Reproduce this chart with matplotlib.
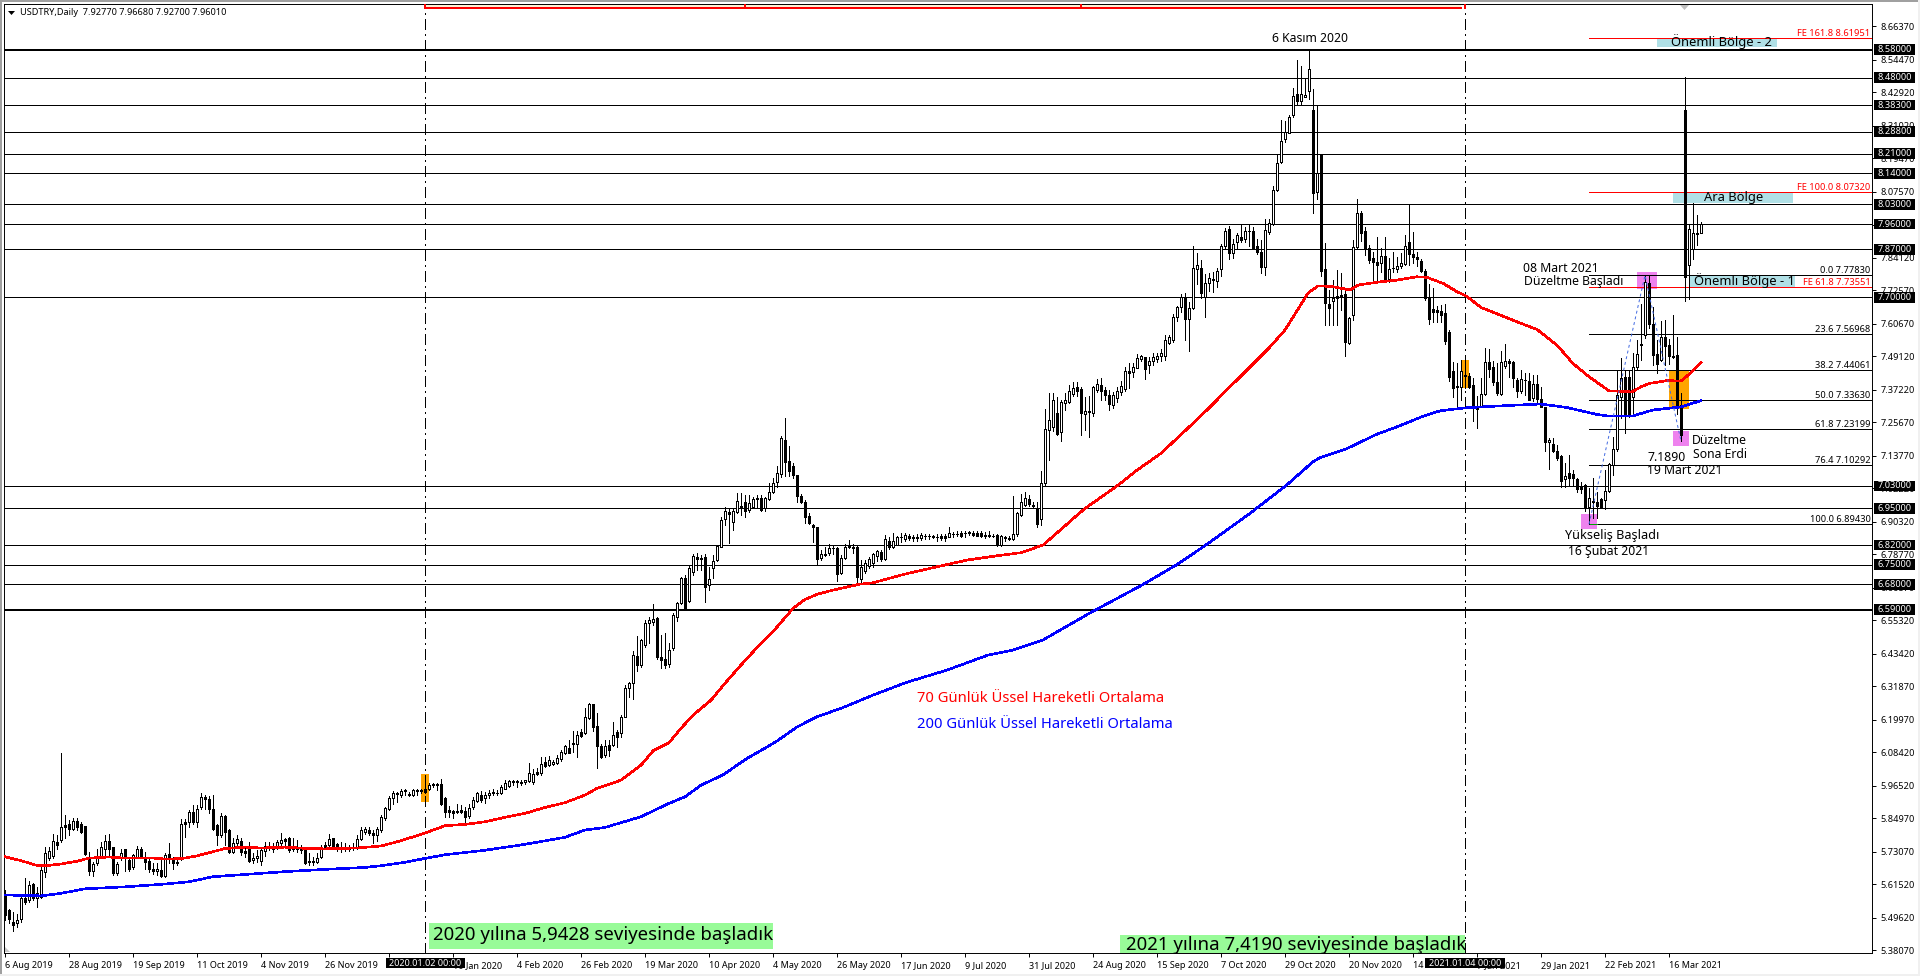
import numpy as np
import matplotlib
matplotlib.use('Agg')
import matplotlib.pyplot as plt
from matplotlib.patches import Rectangle, Polygon
from matplotlib.transforms import blended_transform_factory

# USDTRY daily candles
opens = [
5.577,5.523,5.482,5.476,5.490,5.565,5.561,5.615,5.565,5.571,
5.660,5.710,5.715,5.767,5.772,5.825,5.829,5.813,5.839,5.829,
5.823,5.713,5.663,5.689,5.710,5.742,5.768,5.746,5.654,5.713,
5.742,5.703,5.677,5.713,5.742,5.713,5.699,5.671,5.663,5.665,
5.644,5.721,5.701,5.695,5.707,5.835,5.837,5.873,5.837,5.888,
5.926,5.918,5.884,5.825,5.790,5.857,5.808,5.730,5.762,5.769,
5.734,5.739,5.701,5.710,5.699,5.734,5.752,5.748,5.748,5.760,
5.775,5.781,5.748,5.748,5.746,5.736,5.698,5.695,5.695,5.713,
5.754,5.754,5.780,5.758,5.748,5.745,5.742,5.748,5.746,5.776,
5.802,5.808,5.799,5.790,5.808,5.849,5.882,5.923,5.935,5.932,
5.947,5.935,5.932,5.947,5.947,5.955,5.954,5.966,5.971,5.971,
5.920,5.879,5.875,5.873,5.879,5.876,5.857,5.888,5.912,5.932,
5.920,5.932,5.944,5.938,5.938,5.955,5.964,5.979,5.979,5.979,
5.979,5.982,5.979,6.015,6.009,6.048,6.038,6.044,6.047,6.059,
6.082,6.098,6.113,6.113,6.157,6.154,6.204,6.255,6.177,6.107,
6.074,6.109,6.109,6.157,6.153,6.210,6.314,6.331,6.426,
6.394,6.465,6.544,6.548,6.560,6.423,6.414,6.397,6.453,6.565,
6.613,6.704,6.622,6.725,6.779,6.773,6.776,6.678,6.739,6.767,
6.814,6.911,6.936,6.903,6.938,6.959,6.974,6.944,6.956,6.986,
6.988,6.950,6.983,7.010,7.045,7.072,7.195,7.120,7.101,7.069,
6.995,6.974,6.923,6.890,6.883,6.773,6.790,6.793,6.811,6.811,
6.722,6.773,6.818,6.814,6.812,6.698,6.729,6.745,6.755,6.781,
6.796,6.769,6.834,6.812,6.822,6.847,6.840,6.853,6.847,6.847,
6.845,6.853,6.854,6.852,6.850,6.852,6.854,6.850,6.860,6.860,
6.862,6.862,6.866,6.863,6.862,6.864,6.856,6.854,6.854,6.856,
6.822,6.850,6.845,6.840,6.858,6.927,6.962,6.982,6.961,6.947,
6.911,7.042,7.228,7.240,7.288,7.223,7.326,7.329,7.356,7.380,
7.374,7.285,7.296,7.290,7.371,7.387,7.371,7.353,7.317,7.343,
7.365,7.374,7.438,7.436,7.450,7.481,7.487,7.461,7.474,7.482,
7.492,7.490,7.539,7.548,7.630,7.664,7.700,7.622,7.661,7.799,
7.806,7.702,7.750,7.763,7.759,7.799,7.882,7.941,7.859,7.895,
7.913,7.909,7.934,7.935,7.882,7.862,7.809,7.933,7.960,8.083,
8.182,8.262,8.285,8.347,8.422,8.398,8.413,8.434,8.365,8.075,
8.204,7.799,7.676,7.688,7.705,7.708,7.712,7.539,7.637,7.880,
7.998,7.935,7.877,7.838,7.824,7.823,7.847,7.764,7.803,7.799,
7.811,7.818,7.895,7.853,7.844,7.830,7.794,7.696,7.657,7.655,
7.652,7.643,7.578,7.438,7.385,7.382,7.423,7.420,7.388,7.311,
7.314,7.356,7.469,7.454,7.400,7.356,7.457,7.474,7.469,7.408,
7.368,7.408,7.403,7.343,7.391,7.339,7.309,7.185,7.178,7.154,
7.136,7.056,7.075,7.071,7.054,7.030,7.033,6.956,6.978,6.973,
6.982,6.980,7.013,7.104,7.160,7.347,7.416,7.416,7.345,7.451,
7.536,7.566,7.750,7.604,7.497,7.477,7.558,7.532,7.493,7.494,
7.317,8.365,7.815,7.870,7.924,7.9277]

highs = [
5.594,5.529,5.517,5.511,5.571,5.636,5.625,5.618,5.606,5.677,
5.748,5.748,5.793,5.790,6.080,5.861,5.843,5.852,5.852,5.837,
5.823,5.730,5.695,5.742,5.766,5.790,5.792,5.746,5.695,5.742,
5.742,5.713,5.722,5.751,5.748,5.730,5.713,5.689,5.689,5.701,
5.725,5.760,5.713,5.707,5.847,5.847,5.879,5.896,5.896,5.938,
5.932,5.930,5.932,5.831,5.867,5.861,5.810,5.781,5.790,5.778,
5.748,5.766,5.725,5.736,5.742,5.766,5.766,5.760,5.774,5.796,
5.781,5.784,5.781,5.774,5.754,5.748,5.725,5.713,5.725,5.754,
5.766,5.793,5.781,5.762,5.766,5.762,5.754,5.762,5.790,5.817,
5.819,5.817,5.808,5.819,5.861,5.888,5.928,5.947,5.944,5.955,
5.955,5.944,5.955,5.952,5.955,5.973,5.976,5.976,5.976,5.988,
5.926,5.893,5.879,5.902,5.896,5.890,5.902,5.926,5.944,5.946,
5.944,5.950,5.955,5.950,5.967,5.987,5.987,5.985,5.987,5.987,
5.987,6.047,6.023,6.027,6.066,6.068,6.070,6.058,6.074,6.092,
6.109,6.127,6.160,6.160,6.165,6.240,6.260,6.257,6.222,6.115,
6.127,6.127,6.192,6.163,6.216,6.323,6.334,6.443,6.497,
6.488,6.554,6.565,6.610,6.565,6.500,6.506,6.471,6.577,6.619,
6.708,6.713,6.745,6.790,6.793,6.785,6.790,6.743,6.785,6.820,
6.921,6.956,6.950,6.950,7.004,7.006,6.998,6.998,6.992,6.998,
6.998,6.992,7.039,7.057,7.101,7.207,7.270,7.172,7.110,7.069,
7.000,6.980,6.933,6.895,6.885,6.802,6.814,6.824,6.820,6.814,
6.785,6.824,6.838,6.824,6.817,6.767,6.767,6.779,6.793,6.802,
6.802,6.856,6.847,6.864,6.852,6.864,6.864,6.859,6.856,6.858,
6.864,6.859,6.859,6.857,6.858,6.858,6.859,6.883,6.866,6.870,
6.869,6.871,6.871,6.871,6.869,6.870,6.867,6.871,6.859,6.858,
6.856,6.852,6.852,6.994,6.938,7.001,7.010,6.998,6.974,6.974,
7.084,7.302,7.361,7.359,7.347,7.335,7.359,7.388,7.400,7.400,
7.380,7.347,7.351,7.385,7.409,7.412,7.382,7.371,7.365,7.382,
7.404,7.451,7.465,7.465,7.498,7.495,7.489,7.487,7.501,7.501,
7.515,7.566,7.566,7.641,7.669,7.712,7.716,7.684,7.882,7.856,
7.832,7.783,7.785,7.791,7.803,7.889,7.948,7.953,7.906,7.930,
7.960,7.951,7.959,7.951,7.906,7.903,7.977,7.977,8.095,8.205,
8.330,8.327,8.347,8.442,8.543,8.522,8.474,8.581,8.439,8.383,
8.205,7.892,7.726,7.761,7.797,7.787,7.728,7.630,7.903,8.048,
8.008,7.951,7.886,7.862,7.913,7.874,7.913,7.838,7.862,7.844,
7.856,7.921,8.030,7.931,7.862,7.835,7.799,7.749,7.732,7.669,
7.673,7.676,7.584,7.471,7.465,7.477,7.465,7.430,7.412,7.349,
7.412,7.519,7.515,7.475,7.465,7.510,7.536,7.480,7.474,7.412,
7.442,7.430,7.432,7.424,7.424,7.382,7.311,7.202,7.202,7.175,
7.140,7.112,7.140,7.087,7.057,7.045,7.037,7.021,7.057,7.010,
6.986,7.087,7.112,7.205,7.439,7.483,7.442,7.442,7.501,7.548,
7.678,7.779,7.779,7.667,7.548,7.617,7.619,7.551,7.637,7.560,
7.361,8.481,7.960,8.034,7.992,7.9668]

lows = [
5.488,5.476,5.449,5.464,5.482,5.544,5.553,5.561,5.535,5.565,
5.642,5.701,5.710,5.742,5.766,5.778,5.790,5.807,5.807,5.798,
5.719,5.648,5.644,5.683,5.707,5.707,5.713,5.648,5.648,5.703,
5.663,5.663,5.671,5.707,5.707,5.671,5.659,5.651,5.648,5.640,
5.640,5.689,5.671,5.683,5.701,5.784,5.819,5.831,5.819,5.884,
5.884,5.867,5.808,5.754,5.784,5.754,5.725,5.725,5.754,5.719,
5.713,5.695,5.689,5.695,5.683,5.715,5.736,5.730,5.742,5.751,
5.748,5.730,5.734,5.730,5.725,5.687,5.685,5.683,5.689,5.707,
5.739,5.742,5.748,5.734,5.730,5.734,5.734,5.736,5.742,5.772,
5.793,5.790,5.762,5.770,5.802,5.843,5.879,5.902,5.908,5.926,
5.932,5.928,5.928,5.932,5.938,5.938,5.950,5.962,5.950,5.896,
5.855,5.855,5.852,5.867,5.867,5.837,5.852,5.884,5.908,5.908,
5.904,5.923,5.932,5.934,5.935,5.952,5.962,5.967,5.962,5.967,
5.971,5.979,5.971,6.003,6.003,6.033,6.035,6.038,6.044,6.054,
6.077,6.080,6.086,6.068,6.137,6.148,6.201,6.160,6.029,6.064,
6.066,6.070,6.106,6.104,6.137,6.208,6.281,6.275,6.374,
6.388,6.459,6.471,6.536,6.417,6.382,6.382,6.388,6.447,6.551,
6.610,6.593,6.619,6.713,6.731,6.731,6.619,6.660,6.702,6.764,
6.812,6.891,6.828,6.873,6.935,6.927,6.921,6.938,6.954,6.956,
6.941,6.942,6.980,7.004,7.025,7.063,7.065,7.065,7.060,6.974,
6.970,6.899,6.895,6.832,6.753,6.767,6.781,6.785,6.790,6.693,
6.717,6.769,6.808,6.793,6.684,6.684,6.722,6.737,6.743,6.764,
6.763,6.767,6.805,6.808,6.820,6.832,6.835,6.838,6.835,6.833,
6.838,6.840,6.840,6.844,6.835,6.838,6.835,6.847,6.850,6.852,
6.850,6.850,6.856,6.852,6.852,6.847,6.845,6.850,6.847,6.818,
6.818,6.835,6.838,6.838,6.852,6.924,6.959,6.959,6.954,6.883,
6.891,7.033,7.122,7.226,7.211,7.190,7.300,7.323,7.350,7.349,
7.211,7.228,7.205,7.278,7.365,7.337,7.337,7.300,7.306,7.329,
7.353,7.367,7.377,7.418,7.448,7.475,7.410,7.430,7.459,7.471,
7.474,7.477,7.534,7.542,7.617,7.649,7.548,7.510,7.657,7.747,
7.696,7.631,7.722,7.720,7.738,7.776,7.877,7.837,7.838,7.870,
7.898,7.898,7.882,7.870,7.854,7.787,7.779,7.925,7.957,8.079,
8.178,8.253,8.282,8.339,8.383,8.383,8.410,8.403,7.998,8.051,
7.776,7.601,7.601,7.601,7.601,7.655,7.493,7.535,7.619,7.874,
7.901,7.850,7.821,7.761,7.755,7.791,7.759,7.755,7.791,7.791,
7.805,7.815,7.815,7.821,7.811,7.791,7.690,7.607,7.613,7.613,
7.613,7.535,7.404,7.345,7.306,7.337,7.377,7.377,7.261,7.237,
7.309,7.353,7.418,7.388,7.353,7.353,7.450,7.418,7.382,7.347,
7.361,7.353,7.335,7.333,7.323,7.309,7.154,7.089,7.152,7.122,
7.027,7.027,7.033,7.030,7.010,7.004,6.942,6.894,6.915,6.915,
6.950,6.948,7.010,7.069,7.155,7.270,7.219,7.276,7.285,7.442,
7.477,7.554,7.590,7.459,7.430,7.474,7.459,7.463,7.483,7.285,
7.189,7.688,7.693,7.835,7.886,7.927]

closes = [
5.505,5.493,5.470,5.488,5.565,5.553,5.612,5.565,5.583,5.665,
5.725,5.734,5.770,5.755,5.819,5.819,5.813,5.839,5.819,5.802,
5.722,5.663,5.687,5.713,5.748,5.768,5.742,5.654,5.687,5.725,
5.707,5.671,5.719,5.742,5.713,5.695,5.671,5.663,5.671,5.644,
5.719,5.707,5.691,5.691,5.831,5.829,5.873,5.837,5.882,5.926,
5.918,5.884,5.813,5.790,5.857,5.802,5.730,5.762,5.775,5.730,
5.725,5.699,5.710,5.715,5.736,5.751,5.746,5.742,5.766,5.772,
5.769,5.736,5.742,5.742,5.736,5.689,5.695,5.698,5.710,5.748,
5.742,5.776,5.752,5.739,5.742,5.739,5.748,5.745,5.776,5.808,
5.810,5.799,5.790,5.810,5.855,5.885,5.923,5.941,5.941,5.947,
5.950,5.932,5.950,5.950,5.950,5.943,5.967,5.970,5.967,5.902,
5.873,5.873,5.867,5.875,5.873,5.855,5.885,5.916,5.938,5.916,
5.932,5.940,5.940,5.940,5.959,5.975,5.983,5.981,5.983,5.976,
5.985,6.011,6.006,6.006,6.042,6.036,6.056,6.050,6.062,6.086,
6.106,6.082,6.118,6.145,6.141,6.208,6.255,6.175,6.107,6.068,
6.107,6.092,6.147,6.139,6.210,6.314,6.331,6.429,6.394,
6.483,6.544,6.554,6.556,6.423,6.411,6.394,6.449,6.571,6.613,
6.702,6.595,6.737,6.781,6.770,6.769,6.672,6.698,6.764,6.817,
6.909,6.942,6.930,6.941,6.977,6.956,6.942,6.968,6.982,6.982,
6.944,6.986,7.010,7.042,7.075,7.199,7.116,7.084,7.069,6.994,
6.974,6.921,6.899,6.883,6.771,6.790,6.785,6.808,6.808,6.719,
6.775,6.814,6.814,6.811,6.708,6.741,6.755,6.769,6.788,6.799,
6.769,6.840,6.812,6.835,6.847,6.850,6.856,6.844,6.845,6.845,
6.857,6.851,6.852,6.850,6.847,6.845,6.845,6.862,6.858,6.858,
6.853,6.864,6.863,6.856,6.854,6.853,6.853,6.857,6.852,6.820,
6.852,6.844,6.843,6.858,6.933,6.974,6.989,6.966,6.959,6.895,
7.042,7.231,7.264,7.335,7.213,7.327,7.335,7.366,7.377,7.368,
7.290,7.295,7.294,7.380,7.391,7.368,7.353,7.321,7.353,7.367,
7.385,7.438,7.432,7.452,7.483,7.491,7.446,7.474,7.487,7.491,
7.502,7.547,7.559,7.629,7.665,7.700,7.622,7.661,7.803,7.814,
7.714,7.750,7.767,7.765,7.793,7.882,7.934,7.856,7.888,7.920,
7.905,7.937,7.937,7.874,7.862,7.809,7.939,7.965,8.083,8.176,
8.254,8.288,8.339,8.416,8.398,8.422,8.417,8.510,8.069,8.140,
7.794,7.681,7.661,7.699,7.696,7.705,7.542,7.625,7.880,7.998,
7.927,7.870,7.832,7.826,7.815,7.847,7.764,7.799,7.805,7.811,
7.821,7.883,7.854,7.844,7.836,7.794,7.696,7.622,7.649,7.649,
7.637,7.545,7.418,7.379,7.382,7.438,7.419,7.382,7.309,7.302,
7.356,7.471,7.444,7.398,7.361,7.469,7.475,7.468,7.414,7.368,
7.411,7.406,7.337,7.391,7.340,7.311,7.187,7.195,7.155,7.131,
7.047,7.065,7.059,7.057,7.020,7.018,6.956,6.989,6.972,6.958,
6.956,7.013,7.108,7.163,7.353,7.412,7.282,7.282,7.451,7.498,
7.530,7.755,7.604,7.495,7.463,7.558,7.527,7.493,7.489,7.317,
7.211,7.771,7.941,7.927,7.927,7.9601]

# moving averages, vertices
ema70_bar = [0,4,8,10,14,18,21,26,30,36,40,44,48,52,55,60,64,70,76,80,88,94,98,104,108,110,115,120,125,130,135,140,145,148,154,
             159,162,166,169,172,176.5,180,184,188.6,192.7,197,200,203,207,213.6,217,225,235.5,240.6,248,254,259.5,265,268,270,278,283,289,
             295.4,298,301.3,304.6,311.3,316,320,325.8,328.3,332,336.3,338.3,343.8,347.9,353,355.5,359.6,363,365.4,369,373.8,378,383,388,392,396,401,406.7,409,411,415.4,419,420.8,424]
ema70_val = [5.713,5.699,5.682,5.681,5.687,5.697,5.708,5.712,5.708,5.709,5.705,5.706,5.716,5.731,5.742,5.747,5.744,5.747,5.742,5.741,5.744,5.751,5.766,5.792,5.813,5.823,5.828,5.837,5.853,5.867,5.888,5.905,5.932,5.956,5.985,
             6.038,6.089,6.118,6.169,6.216,6.269,6.329,6.394,6.465,6.524,6.595,6.627,6.645,6.660,6.681,6.686,6.717,6.751,6.767,6.782,6.793,6.820,6.888,6.926,6.950,7.030,7.086,7.146,
             7.231,7.266,7.311,7.359,7.453,7.520,7.584,7.716,7.741,7.738,7.726,7.744,7.755,7.761,7.773,7.771,7.749,7.720,7.704,7.664,7.637,7.613,7.586,7.530,7.465,7.418,7.368,7.364,7.382,7.394,7.404,7.403,7.424,7.468]
ema200_bar = [0,9,14,20,30,40,46,52,60,70,80,90,94,100,105,110,120,130,140,145,150,154,
              159,165.6,170,174,179.4,185.5,192.7,197.8,202.9,209,217,225.3,235.5,245.7,252,259.5,271,284.5,293,300,311,320.4,327,328.8,335.5,343,348,354.6,358.8,365.5,374.6,383.8,390.4,398,401,407,412,416,419,424]
ema200_val = [5.577,5.574,5.583,5.599,5.606,5.616,5.624,5.642,5.650,5.660,5.668,5.675,5.681,5.693,5.707,5.720,5.736,5.757,5.782,5.808,5.817,5.834,
              5.855,5.900,5.926,5.967,6.003,6.062,6.121,6.172,6.210,6.240,6.287,6.332,6.376,6.429,6.447,6.483,6.577,6.680,6.751,6.818,6.930,7.033,7.116,7.131,7.163,7.214,7.240,7.278,7.297,7.308,7.315,7.321,7.309,7.284,7.278,7.279,7.300,7.306,7.311,7.333]

levels = [8.58,8.48,8.383,8.288,8.21,8.14,8.03,7.96,7.87,7.70,7.03,6.95,6.82,6.75,6.68,6.59]
thick_levels = [8.58,6.59]
fe_levels = [8.61951,8.0732,7.73551]
fe_labels = ['FE 161.8 8.61951','FE 100.0 8.07320','FE 61.8 7.73551']
fib_levels = [7.7783,7.56968,7.44061,7.3363,7.23199,7.10292,6.8943]
fib_labels = ['0.0 7.77830','23.6 7.56968','38.2 7.44061','50.0 7.33630','61.8 7.23199','76.4 7.10292','100.0 6.89430']
fib_path_bar = [396,410,419]
fib_path_val = [6.8943,7.7783,7.189]

y_ticks = [8.6637,8.5447,8.4292,8.3102,8.1947,8.0757,7.9567,7.8412,7.7257,7.6067,7.4912,7.3722,7.2567,7.1377,7.0222,6.9032,6.7877,6.6687,6.5532,6.4342,6.3187,6.1997,6.0842,5.9652,5.8497,5.7307,5.6152,5.4962,5.3807]
x_labels = ['6 Aug 2019','28 Aug 2019','19 Sep 2019','11 Oct 2019','4 Nov 2019','26 Nov 2019','18 Dec 2019','10 Jan 2020','4 Feb 2020','26 Feb 2020',
            '19 Mar 2020','10 Apr 2020','4 May 2020','26 May 2020','17 Jun 2020','9 Jul 2020','31 Jul 2020','24 Aug 2020','15 Sep 2020','7 Oct 2020',
            '29 Oct 2020','20 Nov 2020','14 Dec 2020','7 Jan 2021','29 Jan 2021','22 Feb 2021','16 Mar 2021']

W, H = 1920, 976
THIN = 0.7
plt.rcParams['font.family'] = ['Noto Sans', 'DejaVu Sans']

fig = plt.figure(figsize=(W / 100, H / 100), dpi=100, facecolor='white')
ax = fig.add_axes([4 / W, 1 - 953 / H, 1868 / W, 949 / H])
ax.set_xlim(-0.25, 466.75)
ax.set_ylim(5.371, 8.742)

bars = np.arange(len(closes))
o, h, l, c = map(np.array, (opens, highs, lows, closes))


def box(x0, x1, y0, y1, color):
    ax.add_patch(Rectangle((x0, y0), x1 - x0, y1 - y0, facecolor=color, edgecolor='none', zorder=1))


def label(x, y, s, size=8.8, color='black', **kw):
    kw.setdefault('ha', 'left')
    return fig.text(x / W, 1 - y / H, s, fontsize=size, color=color, va='center', zorder=6, **kw)


# zones behind the candles
box(413, 443, 8.588, 8.6175, '#B0E0E6')
box(417, 447, 8.035, 8.0705, '#B0E0E6')
box(421, 447.5, 7.734, 7.779, '#B0E0E6')
box(408, 413, 7.73, 7.79, '#EE82EE')
box(417, 421, 7.172, 7.225, '#EE82EE')
box(394, 398, 6.877, 6.93, '#EE82EE')
box(104, 106, 5.907, 6.006, '#FFA500')
box(364, 366, 7.378, 7.477, '#FFA500')
box(416, 421, 7.305, 7.438, '#FFA500')

for lv in levels:
    ax.axhline(lv, color='black', lw=1.4 if lv in thick_levels else THIN, zorder=2, antialiased=False)
ax.hlines(fe_levels, 396, 466.5, color='red', lw=THIN, zorder=2, antialiased=False)
ax.hlines(fib_levels, 396, 466.5, color='black', lw=THIN, zorder=2, antialiased=False)
ax.hlines(6.8943, 396, 398, color='#00A000', lw=THIN, zorder=2.5, antialiased=False)

for bar in (105, 365):
    ax.axvline(bar, color='black', lw=THIN, linestyle=(0, (11, 5, 2, 5)), zorder=2, antialiased=False)

# candles
ax.vlines(bars, l, h, color='black', lw=THIN, zorder=3, antialiased=False)
ax.bar(bars, np.abs(c - o), bottom=np.minimum(o, c), width=0.5,
       color=['white' if cl >= op else 'black' for op, cl in zip(o, c)],
       edgecolor='black', lw=THIN, zorder=4, antialiased=False)

ax.plot(ema70_bar, ema70_val, color='red', lw=1.15, zorder=5, antialiased=False)
ax.plot(ema200_bar, ema200_val, color='blue', lw=1.15, zorder=5, antialiased=False)
ax.plot(fib_path_bar, fib_path_val, color='#4169E1', lw=THIN, linestyle=(0, (3, 3)), zorder=5)

# range marker on the top edge
top = blended_transform_factory(ax.transData, ax.transAxes)
ax.add_patch(Rectangle((105, 0.9965), 259, 0.0025, transform=top, facecolor='#FFEFD5', edgecolor='none', zorder=2))
ax.plot([105, 364], [0.9955, 0.9955], transform=top, color='red', lw=1.4, zorder=3, antialiased=False)
for bar in (105, 185, 269, 365):
    ax.plot([bar, bar], [0.9955, 1.0], transform=top, color='red', lw=1.2, zorder=3, antialiased=False)

# axes
for side in ax.spines.values():
    side.set_linewidth(THIN)
ax.yaxis.tick_right()
ax.set_yticks(y_ticks)
ax.set_yticklabels(['%.5f' % v for v in y_ticks])
ax.set_xticks(bars[::16])
ax.set_xticklabels(x_labels, ha='left')
ax.tick_params(axis='y', length=3, width=THIN, pad=3, labelsize=6.6)
ax.tick_params(axis='x', length=3, width=THIN, pad=3, labelsize=6.5)

# price tags over the right axis
tag = blended_transform_factory(fig.transFigure, ax.transData)
for lv in levels:
    fig.add_artist(Rectangle((1874 / W, lv - 0.019), 41 / W, 0.038, transform=tag, facecolor='black', edgecolor='none', zorder=5))
    fig.text(1878 / W, lv, '%.5f' % lv, transform=tag, color='white', fontsize=6.6, va='center', zorder=6)

# date tags over the bottom axis
for x0, x1, s in ((386, 465, '2020.01.02 00:00'), (1425, 1505, '2021.01.04 00:00')):
    fig.add_artist(Rectangle((x0 / W, 1 - 968 / H), (x1 - x0) / W, 10 / H, transform=fig.transFigure, facecolor='black', edgecolor='none', zorder=5))
    label((x0 + x1) / 2, 963, s, size=6.5, color='white', ha='center')

# fibonacci labels
for lv, s in zip(fe_levels, fe_labels):
    ax.text(466.4, lv, s, color='red', fontsize=6.7, ha='right', va='bottom', zorder=6)
for lv, s in zip(fib_levels, fib_labels):
    ax.text(466.4, lv, s, color='black', fontsize=6.7, ha='right', va='bottom', zorder=6)

# header
fig.add_artist(Polygon([(8 / W, 1 - 11 / H), (15 / W, 1 - 11 / H), (11.5 / W, 1 - 15 / H)], transform=fig.transFigure, facecolor='black', edgecolor='none'))
label(20, 12.5, 'USDTRY,Daily  7.92770 7.96680 7.92700 7.96010', size=6.6)

# annotations
label(1272, 39, '6 Kasım 2020')
label(1523, 269, '08 Mart 2021')
label(1524, 281, 'Düzeltme Başladı')
label(1692, 440, 'Düzeltme')
label(1693, 455, 'Sona Erdi')
label(1647, 457, '7.1890')
label(1647, 471, '19 Mart 2021')
label(1565, 535, 'Yükseliş Başladı', size=9.1)
label(1568, 552, '16 Şubat 2021')
label(1671, 42, 'Önemli Bölge - 2', size=9.3)
label(1704, 197, 'Ara Bölge', size=9.3)
label(1694, 281, 'Önemli Bölge - 1', size=9.3)
label(917, 698, '70 Günlük Üssel Hareketli Ortalama', size=10.6, color='red')
label(917, 724, '200 Günlük Üssel Hareketli Ortalama', size=10.6, color='blue')

for x0, x1, y0, y1, tx, ty, s in ((429, 773, 923, 949, 433, 935, '2020 yılına 5,9428 seviyesinde başladık'),
                                  (1120, 1465, 935, 953, 1126, 945, '2021 yılına 7,4190 seviyesinde başladık')):
    fig.add_artist(Rectangle((x0 / W, 1 - y1 / H), (x1 - x0) / W, (y1 - y0) / H, transform=fig.transFigure, facecolor='#98FB98', edgecolor='none', zorder=4))
    label(tx, ty, s, size=13.4)

# window chrome
fig.add_artist(Polygon([(1680 / W, 1 - 5 / H), (1689 / W, 1 - 5 / H), (1684.5 / W, 1 - 10 / H)], transform=fig.transFigure, facecolor='#C0C0C0', edgecolor='none'))
fig.add_artist(Polygon([(5 / W, 1 - 947 / H), (5 / W, 1 - 952 / H), (10 / W, 1 - 952 / H)], transform=fig.transFigure, facecolor='#C8C8C8', edgecolor='none'))
fig.add_artist(Rectangle((0, 1 - 2 / H), 1, 2 / H, transform=fig.transFigure, facecolor='#A0A0A0', edgecolor='none'))
fig.add_artist(Rectangle((0, 0), 2 / W, 1, transform=fig.transFigure, facecolor='#A0A0A0', edgecolor='none'))
fig.add_artist(Rectangle((0, 0), 1, 2 / H, transform=fig.transFigure, facecolor='#F0F0F0', edgecolor='none'))
fig.add_artist(Rectangle((1 - 2 / W, 0), 2 / W, 1, transform=fig.transFigure, facecolor='#F0F0F0', edgecolor='none'))

fig.savefig('out.png', dpi=100)
